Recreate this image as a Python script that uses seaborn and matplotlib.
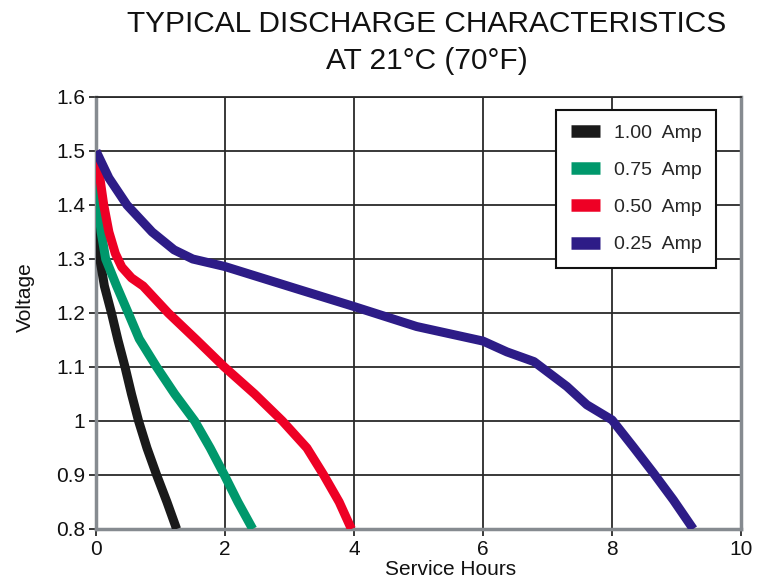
import matplotlib
matplotlib.use("Agg")
import matplotlib.pyplot as plt
import seaborn as sns
import pandas as pd

# ---- data ----
series_labels = ["1.00  Amp", "0.75  Amp", "0.50  Amp", "0.25  Amp"]

hours_100 = [0.0, 0.01, 0.06, 0.13, 0.24, 0.34, 0.45, 0.55, 0.66, 0.79, 0.94, 1.10, 1.25]
volts_100 = [1.50, 1.40, 1.30, 1.25, 1.20, 1.15, 1.10, 1.05, 1.00, 0.95, 0.90, 0.85, 0.80]

hours_075 = [0.0, 0.01, 0.03, 0.08, 0.15, 0.32, 0.50, 0.67, 0.94, 1.22, 1.53, 1.77, 1.99, 2.20, 2.43]
volts_075 = [1.50, 1.45, 1.40, 1.35, 1.30, 1.25, 1.20, 1.152, 1.10, 1.05, 1.00, 0.95, 0.90, 0.85, 0.80]

hours_050 = [0.0, 0.12, 0.20, 0.30, 0.40, 0.55, 0.73, 1.12, 1.56, 1.99, 2.46, 2.89, 3.27, 3.53, 3.77, 3.96]
volts_050 = [1.50, 1.40, 1.35, 1.31, 1.285, 1.265, 1.25, 1.20, 1.15, 1.10, 1.05, 1.00, 0.95, 0.90, 0.85, 0.80]

hours_025 = [0.0, 0.20, 0.48, 0.87, 1.21, 1.50, 2.00, 3.16, 4.00, 4.97, 6.00, 6.37, 6.79, 7.30, 7.61,
             8.00, 8.33, 8.64, 8.95, 9.26]
volts_025 = [1.50, 1.45, 1.40, 1.35, 1.317, 1.30, 1.286, 1.243, 1.212, 1.175, 1.148, 1.128, 1.110,
             1.064, 1.03, 1.002, 0.952, 0.904, 0.854, 0.80]

x_ticks = [0, 2, 4, 6, 8, 10]
y_ticks = [0.8, 0.9, 1.0, 1.1, 1.2, 1.3, 1.4, 1.5, 1.6]
y_tick_labels = ["0.8", "0.9", "1", "1.1", "1.2", "1.3", "1.4", "1.5", "1.6"]

colors = ["#1a1a1a", "#00986c", "#ee0025", "#2d1c87"]

frames = []
for lab, h, v in zip(series_labels,
                     [hours_100, hours_075, hours_050, hours_025],
                     [volts_100, volts_075, volts_050, volts_025]):
    frames.append(pd.DataFrame({"Service Hours": h, "Voltage": v, "Current": lab}))
df = pd.concat(frames, ignore_index=True)

sns.set_theme(style="white")
plt.rcParams["font.family"] = ["Liberation Sans", "DejaVu Sans"]

fig = plt.figure(figsize=(7.61, 5.80), dpi=100)
ax = fig.add_axes([96 / 761, 1 - 529 / 580, 645 / 761, 432 / 580])

sns.lineplot(data=df, x="Service Hours", y="Voltage", hue="Current",
             hue_order=series_labels, palette=colors, sort=False,
             estimator=None, units="Current", linewidth=6.5, ax=ax, zorder=3,
             solid_capstyle="butt", solid_joinstyle="round")

ax.set_xlim(0, 10)
ax.set_ylim(0.8, 1.6)
ax.set_xticks(x_ticks)
ax.set_xticklabels([str(t) for t in x_ticks])
ax.set_yticks(y_ticks)
ax.set_yticklabels(y_tick_labels)

ax.grid(True, color="#2a2a2a", linewidth=1.3, zorder=1)
ax.set_axisbelow(True)

for side in ["left", "bottom", "right"]:
    ax.spines[side].set_visible(True)
    ax.spines[side].set_color("#868b90")
    ax.spines[side].set_linewidth(2.5)
ax.spines["top"].set_visible(True)
ax.spines["top"].set_color("#2a2a2a")
ax.spines["top"].set_linewidth(1.3)

ax.tick_params(axis="both", which="both", direction="out", length=5, width=1.3,
               color="#2a2a2a", labelsize=15, labelcolor="#111111", pad=3,
               left=True, bottom=True)

ax.set_xlabel("Service Hours", fontsize=15, color="#111111")
ax.set_ylabel("Voltage", fontsize=15, color="#111111")
ax.xaxis.set_label_coords(0.549, -0.072)
ax.yaxis.set_label_coords(-0.094, 0.537)

leg = ax.legend(loc="upper right", bbox_to_anchor=(1 - 25 / 645, 1 - 13 / 432),
                frameon=True, fancybox=False, fontsize=14, handlelength=1.5,
                handletextpad=0.7, borderpad=0.75, labelspacing=1.0,
                borderaxespad=0)
leg.get_frame().set_edgecolor("#111111")
leg.get_frame().set_linewidth(1.5)
leg.get_frame().set_facecolor("white")
leg.get_frame().set_alpha(1)
for line in leg.get_lines():
    line.set_linewidth(9)
    line.set_solid_capstyle("butt")

fig.text(0.561, 1 - 10 / 580, "TYPICAL DISCHARGE CHARACTERISTICS\nAT 21°C (70°F)",
         ha="center", va="top", fontsize=21.5, color="#111111", linespacing=1.4)

fig.savefig("out.png", dpi=100)
